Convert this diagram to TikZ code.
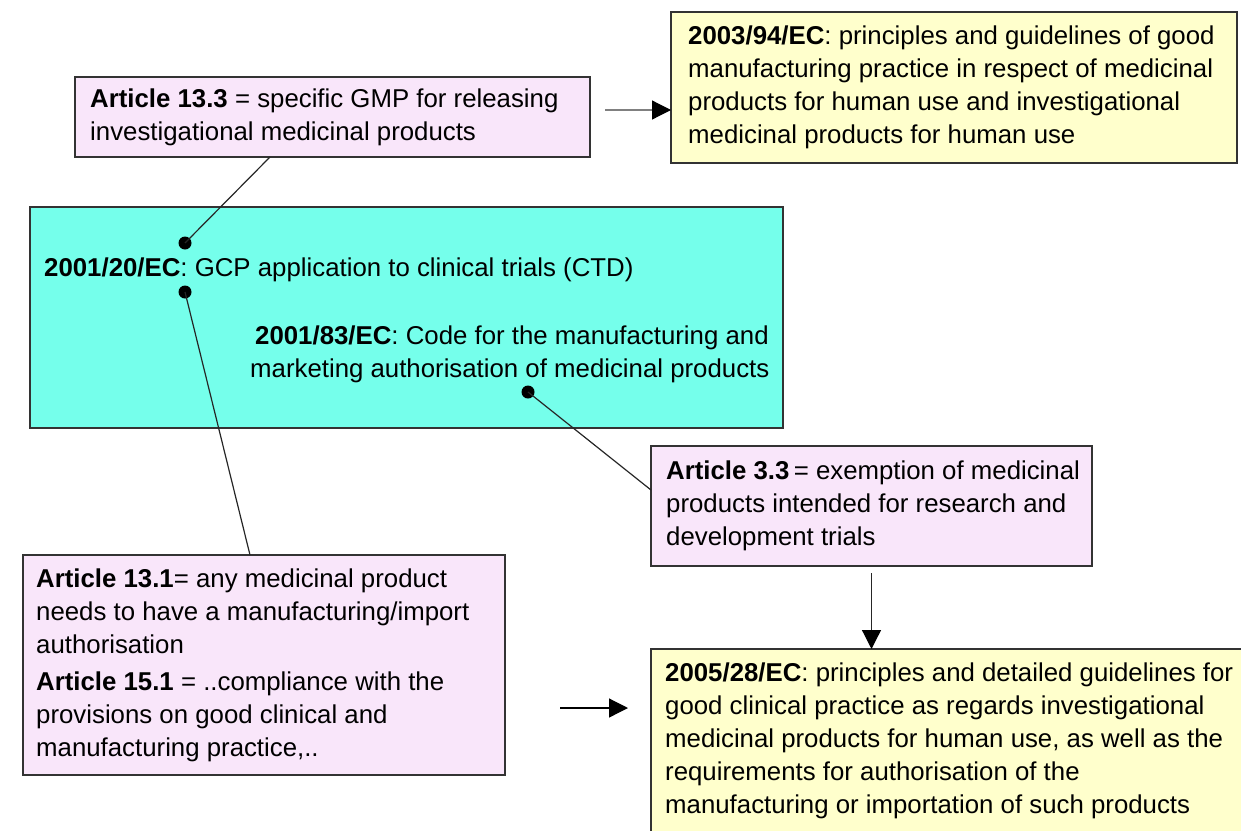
\documentclass[tikz,border=0pt]{standalone}
\usepackage{fontspec}
\setmainfont{Liberation Sans}
\usetikzlibrary{arrows.meta,calc}
\definecolor{pinkfill}{HTML}{F9E6FA}
\definecolor{yellowfill}{HTML}{FFFFCC}
\definecolor{cyanfill}{HTML}{75FFEB}
\definecolor{edge}{HTML}{333333}

\begin{document}
\begin{tikzpicture}[x=1pt,y=-1pt,
  box/.style={draw=edge, line width=1.8pt, anchor=north west, inner sep=0pt, outer sep=0pt},
  txt/.style={anchor=west, align=left, inner sep=0pt, font=\fontsize{25.8}{33}\selectfont},
  link/.style={line width=1.2pt, draw=black!85},
  dot/.style={circle, fill=black, inner sep=0pt, minimum size=13pt},
  tip/.style={-{Triangle[length=19pt,width=19pt,color=black]}}
]
\useasboundingbox (0,0) rectangle (1241,830);

% directive and article boxes
\node[box, fill=pinkfill, minimum width=515pt, minimum height=80pt] (a133) at (75,77) {};
\node[txt] (t133) at ($(a133.west)+(15,0)$)
  {\textbf{Article 13.3} = specific GMP for releasing\\investigational medicinal products};

\node[box, fill=yellowfill, minimum width=566pt, minimum height=151pt] (d2003) at (671,12) {};
\node[txt] (t2003) at ($(d2003.west)+(17,0)$)
  {\textbf{2003/94/EC}: principles and guidelines of good\\manufacturing practice in respect of medicinal\\products for human use and investigational\\medicinal products for human use};

\node[box, fill=cyanfill, minimum width=753pt, minimum height=221pt] (d2001) at (30,207) {};
\node[txt] (t2001) at (44,270) {\textbf{2001/20/EC}: GCP application to clinical trials (CTD)};
\node[txt] (t2083) at (250,354)
  {\hspace*{5pt}\textbf{2001/83/EC}: Code for the manufacturing and\\marketing authorisation of medicinal products};

\node[box, fill=pinkfill, minimum width=441pt, minimum height=120pt] (a33) at (651,446) {};
\node[txt] (t33) at ($(a33.west)+(15,0)$)
  {\textbf{Article 3.3}\,= exemption of medicinal\\products intended for research and\\development trials};

\node[box, fill=pinkfill, minimum width=482pt, minimum height=220pt] (a131) at (23,555) {};
\node[txt] (t131) at ($(a131.west)+(13,0)$)
  {\textbf{Article 13.1}= any medicinal product\\needs to have a manufacturing/import\\authorisation\\[4pt]
   \textbf{Article 15.1} = ..compliance with the\\provisions on good clinical and\\manufacturing practice,..};

\node[box, fill=yellowfill, minimum width=600pt, minimum height=184pt] (d2005) at (651,649) {};
\node[txt] (t2005) at ($(d2005.west)+(14,0)$)
  {\textbf{2005/28/EC}: principles and detailed guidelines for\\good clinical practice as regards investigational\\medicinal products for human use, as well as the\\requirements for authorisation of the\\manufacturing or importation of such products};

% anchor dots inside the directive box
\node[dot] (p1) at (185,243) {};
\node[dot] (p2) at (185,292) {};
\node[dot] (p3) at (528,392) {};

% links between articles and directives
\draw[link] (p1.center) -- ($(a133.south west)+(195,0)$);
\draw[link] (p2.center) -- ($(a131.north west)+(227,0)$);
\draw[link] (p3.center) -- ($(a33.north west)+(0,44)$);

% arrows
\coordinate (g0) at (605,110);
\draw[link, draw=gray, tip] (g0) -- (g0 -| d2003.west);
\coordinate (v0) at ($(a33.south)+(0,7)$);
\draw[link, tip] (v0) -- (v0 |- d2005.north);
\coordinate (h0) at (560,708);
\coordinate (h1) at (628,708);
\draw[link, draw=black, tip] (h0) -- (h1);
\end{tikzpicture}
\end{document}
